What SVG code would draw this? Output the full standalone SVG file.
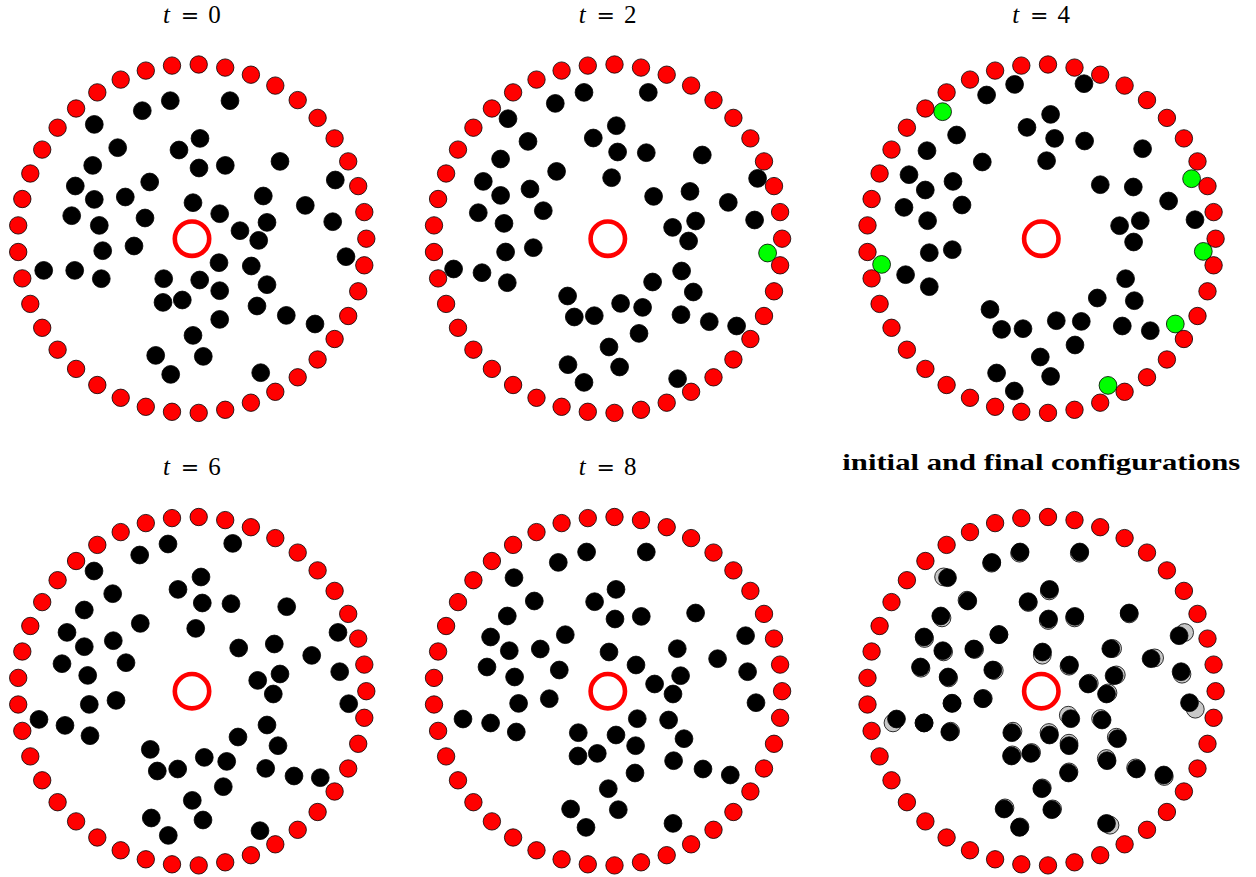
<svg xmlns="http://www.w3.org/2000/svg" xmlns:xlink="http://www.w3.org/1999/xlink" width="1256" height="877" viewBox="0 0 1256 877">
<style>
.r{fill:#ff0000;stroke:#000;stroke-width:0.8}
.b{fill:#000;stroke:#000;stroke-width:0.8}
.g{fill:#00ff00;stroke:#000;stroke-width:0.8}
.s{fill:#c8c8c8;stroke:#000;stroke-width:0.8}
.c{fill:none;stroke:#ff0000;stroke-width:4.6}
.t{font-family:"Liberation Serif","DejaVu Serif",serif;font-size:25px;fill:#000}
.eq{font-family:"DejaVu Serif","Liberation Serif",serif;font-size:22px}
.h{font-family:"Liberation Serif","DejaVu Serif",serif;font-size:23px;font-weight:bold;fill:#000}
</style>
<defs>
<g id="ring">
<circle class="r" cx="174.3" cy="0" r="8.7"/><circle class="r" cx="172.3" cy="26.6" r="8.7"/><circle class="r" cx="166.2" cy="52.6" r="8.7"/><circle class="r" cx="156.2" cy="77.3" r="8.7"/><circle class="r" cx="142.6" cy="100.3" r="8.7"/><circle class="r" cx="125.6" cy="120.8" r="8.7"/><circle class="r" cx="105.7" cy="138.6" r="8.7"/><circle class="r" cx="83.3" cy="153.1" r="8.7"/><circle class="r" cx="58.9" cy="164.0" r="8.7"/><circle class="r" cx="33.2" cy="171.1" r="8.7"/><circle class="r" cx="6.7" cy="174.2" r="8.7"/><circle class="r" cx="-20.0" cy="173.1" r="8.7"/><circle class="r" cx="-46.2" cy="168.1" r="8.7"/><circle class="r" cx="-71.3" cy="159.1" r="8.7"/><circle class="r" cx="-94.7" cy="146.3" r="8.7"/><circle class="r" cx="-115.9" cy="130.2" r="8.7"/><circle class="r" cx="-134.4" cy="111.0" r="8.7"/><circle class="r" cx="-149.8" cy="89.1" r="8.7"/><circle class="r" cx="-161.7" cy="65.2" r="8.7"/><circle class="r" cx="-169.7" cy="39.7" r="8.7"/><circle class="r" cx="-173.8" cy="13.3" r="8.7"/><circle class="r" cx="-173.8" cy="-13.3" r="8.7"/><circle class="r" cx="-169.7" cy="-39.7" r="8.7"/><circle class="r" cx="-161.7" cy="-65.2" r="8.7"/><circle class="r" cx="-149.8" cy="-89.1" r="8.7"/><circle class="r" cx="-134.4" cy="-111.0" r="8.7"/><circle class="r" cx="-115.9" cy="-130.2" r="8.7"/><circle class="r" cx="-94.7" cy="-146.3" r="8.7"/><circle class="r" cx="-71.3" cy="-159.1" r="8.7"/><circle class="r" cx="-46.2" cy="-168.1" r="8.7"/><circle class="r" cx="-20.0" cy="-173.1" r="8.7"/><circle class="r" cx="6.7" cy="-174.2" r="8.7"/><circle class="r" cx="33.2" cy="-171.1" r="8.7"/><circle class="r" cx="58.9" cy="-164.0" r="8.7"/><circle class="r" cx="83.3" cy="-153.1" r="8.7"/><circle class="r" cx="105.7" cy="-138.6" r="8.7"/><circle class="r" cx="125.6" cy="-120.8" r="8.7"/><circle class="r" cx="142.6" cy="-100.3" r="8.7"/><circle class="r" cx="156.2" cy="-77.3" r="8.7"/><circle class="r" cx="166.2" cy="-52.6" r="8.7"/><circle class="r" cx="172.3" cy="-26.6" r="8.7"/>
<circle class="c" cx="0" cy="0" r="17.2"/>
</g>
</defs>

<g id="titles">
<text class="t" y="23"><tspan x="163" font-style="italic">t</tspan><tspan class="eq" x="190" text-anchor="middle">=</tspan><tspan x="214.5" text-anchor="middle">0</tspan></text>
<text class="t" y="23"><tspan x="578.8" font-style="italic">t</tspan><tspan class="eq" x="605.8" text-anchor="middle">=</tspan><tspan x="630.3" text-anchor="middle">2</tspan></text>
<text class="t" y="23"><tspan x="1012.3" font-style="italic">t</tspan><tspan class="eq" x="1039.3" text-anchor="middle">=</tspan><tspan x="1063.8" text-anchor="middle">4</tspan></text>
<text class="t" y="475"><tspan x="163" font-style="italic">t</tspan><tspan class="eq" x="190" text-anchor="middle">=</tspan><tspan x="214.5" text-anchor="middle">6</tspan></text>
<text class="t" y="475"><tspan x="578.8" font-style="italic">t</tspan><tspan class="eq" x="605.8" text-anchor="middle">=</tspan><tspan x="630.3" text-anchor="middle">8</tspan></text>
<text class="h" x="1041.3" y="470" text-anchor="middle" textLength="398" lengthAdjust="spacingAndGlyphs">initial and final configurations</text>
</g>

<g id="panel1" transform="translate(192,238.7)">
<circle class="b" cx="-49.7" cy="-128.0" r="8.9"/><circle class="b" cx="-21.7" cy="-138.0" r="8.9"/><circle class="b" cx="38.0" cy="-138.0" r="8.9"/><circle class="b" cx="-97.7" cy="-114.3" r="8.9"/><circle class="b" cx="-74.3" cy="-91.0" r="8.9"/><circle class="b" cx="-13.0" cy="-88.7" r="8.9"/><circle class="b" cx="8.0" cy="-100.3" r="8.9"/><circle class="b" cx="7.0" cy="-70.7" r="8.9"/><circle class="b" cx="33.3" cy="-73.3" r="8.9"/><circle class="b" cx="88.0" cy="-77.3" r="8.9"/>
<circle class="b" cx="-99.3" cy="-73.3" r="8.9"/><circle class="b" cx="-42.3" cy="-56.7" r="8.9"/><circle class="b" cx="-116.7" cy="-52.7" r="8.9"/><circle class="b" cx="-97.7" cy="-39.3" r="8.9"/><circle class="b" cx="-66.7" cy="-41.7" r="8.9"/><circle class="b" cx="143.3" cy="-58.7" r="8.9"/><circle class="b" cx="1.0" cy="-36.0" r="8.9"/><circle class="b" cx="71.3" cy="-42.7" r="8.9"/><circle class="b" cx="113.3" cy="-33.3" r="8.9"/><circle class="b" cx="-120.3" cy="-23.0" r="8.9"/>
<circle class="b" cx="-47.0" cy="-20.7" r="8.9"/><circle class="b" cx="27.7" cy="-25.0" r="8.9"/><circle class="b" cx="-92.7" cy="-13.3" r="8.9"/><circle class="b" cx="75.0" cy="-16.3" r="8.9"/><circle class="b" cx="140.7" cy="-17.0" r="8.9"/><circle class="b" cx="48.0" cy="-8.0" r="8.9"/><circle class="b" cx="66.7" cy="1.7" r="8.9"/><circle class="b" cx="-89.3" cy="12.0" r="8.9"/><circle class="b" cx="-58.0" cy="7.3" r="8.9"/><circle class="b" cx="154.0" cy="18.0" r="8.9"/>
<circle class="b" cx="27.0" cy="24.0" r="8.9"/><circle class="b" cx="59.3" cy="27.3" r="8.9"/><circle class="b" cx="-148.3" cy="31.7" r="8.9"/><circle class="b" cx="-117.3" cy="31.7" r="8.9"/><circle class="b" cx="-90.7" cy="40.0" r="8.9"/><circle class="b" cx="-28.3" cy="40.0" r="8.9"/><circle class="b" cx="7.7" cy="41.3" r="8.9"/><circle class="b" cx="75.0" cy="46.0" r="8.9"/><circle class="b" cx="27.7" cy="52.0" r="8.9"/><circle class="b" cx="-29.0" cy="63.7" r="8.9"/>
<circle class="b" cx="-9.7" cy="61.3" r="8.9"/><circle class="b" cx="65.0" cy="67.3" r="8.9"/><circle class="b" cx="27.7" cy="80.7" r="8.9"/><circle class="b" cx="94.3" cy="76.7" r="8.9"/><circle class="b" cx="123.0" cy="85.3" r="8.9"/><circle class="b" cx="1.0" cy="96.7" r="8.9"/><circle class="b" cx="-36.3" cy="116.7" r="8.9"/><circle class="b" cx="11.3" cy="117.7" r="8.9"/><circle class="b" cx="-21.3" cy="135.7" r="8.9"/><circle class="b" cx="68.7" cy="134.0" r="8.9"/>
<use xlink:href="#ring" href="#ring"/>
</g>

<g id="panel2" transform="translate(607.8,238.7)">
<circle class="b" cx="-52.5" cy="-135.3" r="8.9"/><circle class="b" cx="-23.8" cy="-146.3" r="8.9"/><circle class="b" cx="40.5" cy="-146.3" r="8.9"/><circle class="b" cx="-99.8" cy="-120.0" r="8.9"/><circle class="b" cx="-79.8" cy="-97.3" r="8.9"/><circle class="b" cx="-14.5" cy="-100.7" r="8.9"/><circle class="b" cx="8.5" cy="-113.0" r="8.9"/><circle class="b" cx="9.8" cy="-86.7" r="8.9"/><circle class="b" cx="38.5" cy="-86.0" r="8.9"/><circle class="b" cx="94.5" cy="-83.7" r="8.9"/>
<circle class="b" cx="-107.2" cy="-79.7" r="8.9"/><circle class="b" cx="-51.2" cy="-67.3" r="8.9"/><circle class="b" cx="-124.5" cy="-57.3" r="8.9"/><circle class="b" cx="3.8" cy="-61.0" r="8.9"/><circle class="b" cx="-107.2" cy="-43.3" r="8.9"/><circle class="b" cx="-77.8" cy="-49.7" r="8.9"/><circle class="b" cx="149.8" cy="-60.3" r="8.9"/><circle class="b" cx="45.8" cy="-42.3" r="8.9"/><circle class="b" cx="82.2" cy="-47.3" r="8.9"/><circle class="b" cx="120.5" cy="-36.3" r="8.9"/>
<circle class="b" cx="-129.5" cy="-26.0" r="8.9"/><circle class="b" cx="-64.5" cy="-28.0" r="8.9"/><circle class="b" cx="-103.8" cy="-15.3" r="8.9"/><circle class="b" cx="87.8" cy="-17.7" r="8.9"/><circle class="b" cx="146.8" cy="-18.7" r="8.9"/><circle class="b" cx="64.8" cy="-11.3" r="8.9"/><circle class="b" cx="80.8" cy="2.3" r="8.9"/><circle class="b" cx="-102.2" cy="13.3" r="8.9"/><circle class="b" cx="-74.5" cy="9.0" r="8.9"/><circle class="b" cx="-154.2" cy="30.3" r="8.9"/>
<circle class="b" cx="-125.8" cy="34.0" r="8.9"/><circle class="b" cx="-100.5" cy="44.0" r="8.9"/><circle class="b" cx="44.8" cy="43.3" r="8.9"/><circle class="b" cx="73.8" cy="32.3" r="8.9"/><circle class="b" cx="85.5" cy="53.3" r="8.9"/><circle class="b" cx="-40.2" cy="57.3" r="8.9"/><circle class="b" cx="12.8" cy="64.7" r="8.9"/><circle class="b" cx="34.8" cy="68.7" r="8.9"/><circle class="b" cx="-33.5" cy="78.3" r="8.9"/><circle class="b" cx="-13.5" cy="77.0" r="8.9"/>
<circle class="b" cx="73.2" cy="76.0" r="8.9"/><circle class="b" cx="101.5" cy="83.0" r="8.9"/><circle class="b" cx="128.8" cy="87.3" r="8.9"/><circle class="b" cx="31.2" cy="94.7" r="8.9"/><circle class="b" cx="1.2" cy="108.3" r="8.9"/><circle class="b" cx="-39.8" cy="126.0" r="8.9"/><circle class="b" cx="11.8" cy="128.3" r="8.9"/><circle class="b" cx="-23.8" cy="143.7" r="8.9"/><circle class="b" cx="69.8" cy="140.0" r="8.9"/>
<circle class="g" cx="159.8" cy="14.3" r="8.9"/>
<use xlink:href="#ring" href="#ring"/>
</g>

<g id="panel3" transform="translate(1041.3,238.7)">
<circle class="b" cx="-54.7" cy="-143.7" r="8.9"/><circle class="b" cx="-26.7" cy="-154.3" r="8.9"/><circle class="b" cx="42.7" cy="-155.0" r="8.9"/><circle class="b" cx="-84.7" cy="-103.7" r="8.9"/><circle class="b" cx="-14.3" cy="-111.3" r="8.9"/><circle class="b" cx="9.3" cy="-124.3" r="8.9"/><circle class="b" cx="13.3" cy="-100.3" r="8.9"/><circle class="b" cx="43.3" cy="-97.7" r="8.9"/><circle class="b" cx="101.3" cy="-90.0" r="8.9"/><circle class="b" cx="-114.3" cy="-88.0" r="8.9"/>
<circle class="b" cx="-59.0" cy="-76.7" r="8.9"/><circle class="b" cx="5.3" cy="-78.0" r="8.9"/><circle class="b" cx="-132.3" cy="-64.0" r="8.9"/><circle class="b" cx="-88.3" cy="-57.3" r="8.9"/><circle class="b" cx="-116.0" cy="-48.7" r="8.9"/><circle class="b" cx="59.0" cy="-54.0" r="8.9"/><circle class="b" cx="92.0" cy="-51.7" r="8.9"/><circle class="b" cx="127.3" cy="-37.7" r="8.9"/><circle class="b" cx="-137.3" cy="-31.3" r="8.9"/><circle class="b" cx="-79.3" cy="-33.7" r="8.9"/>
<circle class="b" cx="-113.7" cy="-18.0" r="8.9"/><circle class="b" cx="99.0" cy="-18.0" r="8.9"/><circle class="b" cx="153.7" cy="-19.0" r="8.9"/><circle class="b" cx="78.3" cy="-13.0" r="8.9"/><circle class="b" cx="92.3" cy="3.3" r="8.9"/><circle class="b" cx="-112.0" cy="14.0" r="8.9"/><circle class="b" cx="-89.0" cy="11.0" r="8.9"/><circle class="b" cx="-135.7" cy="36.0" r="8.9"/><circle class="b" cx="-112.0" cy="48.0" r="8.9"/><circle class="b" cx="84.3" cy="40.0" r="8.9"/>
<circle class="b" cx="56.0" cy="59.3" r="8.9"/><circle class="b" cx="93.0" cy="62.0" r="8.9"/><circle class="b" cx="-51.3" cy="70.7" r="8.9"/><circle class="b" cx="-39.7" cy="90.7" r="8.9"/><circle class="b" cx="-18.3" cy="90.0" r="8.9"/><circle class="b" cx="15.0" cy="82.0" r="8.9"/><circle class="b" cx="40.0" cy="82.7" r="8.9"/><circle class="b" cx="81.0" cy="87.3" r="8.9"/><circle class="b" cx="109.0" cy="92.0" r="8.9"/><circle class="b" cx="33.7" cy="106.3" r="8.9"/>
<circle class="b" cx="-1.0" cy="118.3" r="8.9"/><circle class="b" cx="-44.7" cy="134.3" r="8.9"/><circle class="b" cx="9.3" cy="137.7" r="8.9"/><circle class="b" cx="-27.0" cy="152.3" r="8.9"/>
<circle class="g" cx="-98.7" cy="-127.0" r="8.9"/><circle class="g" cx="150.3" cy="-60.0" r="8.9"/><circle class="g" cx="162.0" cy="12.7" r="8.9"/><circle class="g" cx="-159.7" cy="25.7" r="8.9"/><circle class="g" cx="134.0" cy="85.3" r="8.9"/><circle class="g" cx="66.7" cy="146.7" r="8.9"/>
<use xlink:href="#ring" href="#ring"/>
</g>

<g id="panel4" transform="translate(192,691.2)">
<circle class="b" cx="-52.3" cy="-136.2" r="8.9"/><circle class="b" cx="-24.0" cy="-147.2" r="8.9"/><circle class="b" cx="40.7" cy="-147.8" r="8.9"/><circle class="b" cx="-98.0" cy="-120.2" r="8.9"/><circle class="b" cx="-79.3" cy="-97.5" r="8.9"/><circle class="b" cx="-14.0" cy="-101.8" r="8.9"/><circle class="b" cx="9.0" cy="-114.2" r="8.9"/><circle class="b" cx="10.3" cy="-88.2" r="8.9"/><circle class="b" cx="39.0" cy="-87.5" r="8.9"/><circle class="b" cx="94.7" cy="-84.5" r="8.9"/>
<circle class="b" cx="-107.7" cy="-81.2" r="8.9"/><circle class="b" cx="-51.7" cy="-67.8" r="8.9"/><circle class="b" cx="-125.0" cy="-58.8" r="8.9"/><circle class="b" cx="3.7" cy="-62.8" r="8.9"/><circle class="b" cx="-107.7" cy="-44.5" r="8.9"/><circle class="b" cx="-78.7" cy="-50.5" r="8.9"/><circle class="b" cx="146.0" cy="-58.8" r="8.9"/><circle class="b" cx="46.7" cy="-43.2" r="8.9"/><circle class="b" cx="82.3" cy="-47.2" r="8.9"/><circle class="b" cx="119.7" cy="-35.8" r="8.9"/>
<circle class="b" cx="-130.0" cy="-27.5" r="8.9"/><circle class="b" cx="-66.0" cy="-28.5" r="8.9"/><circle class="b" cx="-104.3" cy="-15.8" r="8.9"/><circle class="b" cx="88.0" cy="-17.2" r="8.9"/><circle class="b" cx="147.7" cy="-19.5" r="8.9"/><circle class="b" cx="65.7" cy="-10.8" r="8.9"/><circle class="b" cx="81.3" cy="2.8" r="8.9"/><circle class="b" cx="-102.7" cy="13.2" r="8.9"/><circle class="b" cx="-76.0" cy="9.2" r="8.9"/><circle class="b" cx="156.7" cy="12.5" r="8.9"/>
<circle class="b" cx="-153.0" cy="28.2" r="8.9"/><circle class="b" cx="-127.0" cy="34.2" r="8.9"/><circle class="b" cx="-102.0" cy="44.5" r="8.9"/><circle class="b" cx="46.0" cy="45.8" r="8.9"/><circle class="b" cx="75.0" cy="33.8" r="8.9"/><circle class="b" cx="86.0" cy="54.5" r="8.9"/><circle class="b" cx="-41.7" cy="58.2" r="8.9"/><circle class="b" cx="12.3" cy="66.2" r="8.9"/><circle class="b" cx="34.7" cy="70.2" r="8.9"/><circle class="b" cx="-34.7" cy="79.8" r="8.9"/>
<circle class="b" cx="-14.3" cy="77.8" r="8.9"/><circle class="b" cx="73.7" cy="77.2" r="8.9"/><circle class="b" cx="102.0" cy="84.8" r="8.9"/><circle class="b" cx="128.3" cy="86.5" r="8.9"/><circle class="b" cx="31.3" cy="95.5" r="8.9"/><circle class="b" cx="0.3" cy="109.2" r="8.9"/><circle class="b" cx="-40.7" cy="126.8" r="8.9"/><circle class="b" cx="11.0" cy="128.8" r="8.9"/><circle class="b" cx="-23.7" cy="144.2" r="8.9"/><circle class="b" cx="68.0" cy="139.5" r="8.9"/>
<use xlink:href="#ring" href="#ring"/>
</g>

<g id="panel5" transform="translate(607.8,691.2)">
<circle class="b" cx="-49.5" cy="-128.8" r="8.9"/><circle class="b" cx="-21.2" cy="-139.2" r="8.9"/><circle class="b" cx="38.5" cy="-139.2" r="8.9"/><circle class="b" cx="-93.8" cy="-113.5" r="8.9"/><circle class="b" cx="-73.5" cy="-90.2" r="8.9"/><circle class="b" cx="-13.2" cy="-89.5" r="8.9"/><circle class="b" cx="8.2" cy="-101.8" r="8.9"/><circle class="b" cx="7.2" cy="-72.2" r="8.9"/><circle class="b" cx="33.5" cy="-74.8" r="8.9"/><circle class="b" cx="87.8" cy="-78.2" r="8.9"/>
<circle class="b" cx="-100.5" cy="-75.2" r="8.9"/><circle class="b" cx="-42.5" cy="-56.5" r="8.9"/><circle class="b" cx="-117.2" cy="-54.2" r="8.9"/><circle class="b" cx="-98.5" cy="-40.5" r="8.9"/><circle class="b" cx="-67.5" cy="-42.2" r="8.9"/><circle class="b" cx="137.8" cy="-55.5" r="8.9"/><circle class="b" cx="1.2" cy="-39.2" r="8.9"/><circle class="b" cx="69.5" cy="-42.5" r="8.9"/><circle class="b" cx="109.8" cy="-32.5" r="8.9"/><circle class="b" cx="-120.8" cy="-24.2" r="8.9"/>
<circle class="b" cx="-48.5" cy="-21.2" r="8.9"/><circle class="b" cx="28.2" cy="-26.2" r="8.9"/><circle class="b" cx="-93.2" cy="-14.2" r="8.9"/><circle class="b" cx="72.8" cy="-15.5" r="8.9"/><circle class="b" cx="139.8" cy="-19.5" r="8.9"/><circle class="b" cx="46.8" cy="-7.2" r="8.9"/><circle class="b" cx="65.2" cy="2.8" r="8.9"/><circle class="b" cx="-89.2" cy="12.2" r="8.9"/><circle class="b" cx="-58.5" cy="7.5" r="8.9"/><circle class="b" cx="148.2" cy="11.5" r="8.9"/>
<circle class="b" cx="29.5" cy="27.5" r="8.9"/><circle class="b" cx="60.8" cy="28.8" r="8.9"/><circle class="b" cx="-144.8" cy="27.8" r="8.9"/><circle class="b" cx="-117.2" cy="31.8" r="8.9"/><circle class="b" cx="-91.5" cy="40.8" r="8.9"/><circle class="b" cx="-29.5" cy="41.5" r="8.9"/><circle class="b" cx="8.2" cy="43.8" r="8.9"/><circle class="b" cx="76.2" cy="47.5" r="8.9"/><circle class="b" cx="27.8" cy="54.5" r="8.9"/><circle class="b" cx="-29.8" cy="64.8" r="8.9"/>
<circle class="b" cx="-10.5" cy="62.2" r="8.9"/><circle class="b" cx="65.8" cy="69.5" r="8.9"/><circle class="b" cx="27.2" cy="81.8" r="8.9"/><circle class="b" cx="95.2" cy="77.8" r="8.9"/><circle class="b" cx="122.5" cy="83.8" r="8.9"/><circle class="b" cx="0.5" cy="97.5" r="8.9"/><circle class="b" cx="-37.2" cy="117.8" r="8.9"/><circle class="b" cx="10.5" cy="118.5" r="8.9"/><circle class="b" cx="-21.8" cy="136.2" r="8.9"/><circle class="b" cx="65.2" cy="132.2" r="8.9"/>
<use xlink:href="#ring" href="#ring"/>
</g>

<g id="panel6" transform="translate(1041.3,691.2)">
<circle class="s" cx="-49.7" cy="-128.0" r="8.9"/><circle class="s" cx="-21.7" cy="-138.0" r="8.9"/><circle class="s" cx="38.0" cy="-138.0" r="8.9"/><circle class="s" cx="-97.7" cy="-114.3" r="8.9"/><circle class="s" cx="-74.3" cy="-91.0" r="8.9"/><circle class="s" cx="-13.0" cy="-88.7" r="8.9"/><circle class="s" cx="8.0" cy="-100.3" r="8.9"/><circle class="s" cx="7.0" cy="-70.7" r="8.9"/><circle class="s" cx="33.3" cy="-73.3" r="8.9"/><circle class="s" cx="88.0" cy="-77.3" r="8.9"/>
<circle class="s" cx="-99.3" cy="-73.3" r="8.9"/><circle class="s" cx="-42.3" cy="-56.7" r="8.9"/><circle class="s" cx="-116.7" cy="-52.7" r="8.9"/><circle class="s" cx="-97.7" cy="-39.3" r="8.9"/><circle class="s" cx="-66.7" cy="-41.7" r="8.9"/><circle class="s" cx="143.3" cy="-58.7" r="8.9"/><circle class="s" cx="1.0" cy="-36.0" r="8.9"/><circle class="s" cx="71.3" cy="-42.7" r="8.9"/><circle class="s" cx="113.3" cy="-33.3" r="8.9"/><circle class="s" cx="-120.3" cy="-23.0" r="8.9"/>
<circle class="s" cx="-47.0" cy="-20.7" r="8.9"/><circle class="s" cx="27.7" cy="-25.0" r="8.9"/><circle class="s" cx="-92.7" cy="-13.3" r="8.9"/><circle class="s" cx="75.0" cy="-16.3" r="8.9"/><circle class="s" cx="140.7" cy="-17.0" r="8.9"/><circle class="s" cx="48.0" cy="-8.0" r="8.9"/><circle class="s" cx="66.7" cy="1.7" r="8.9"/><circle class="s" cx="-89.3" cy="12.0" r="8.9"/><circle class="s" cx="-58.0" cy="7.3" r="8.9"/><circle class="s" cx="154.0" cy="18.0" r="8.9"/>
<circle class="s" cx="27.0" cy="24.0" r="8.9"/><circle class="s" cx="59.3" cy="27.3" r="8.9"/><circle class="s" cx="-148.3" cy="31.7" r="8.9"/><circle class="s" cx="-117.3" cy="31.7" r="8.9"/><circle class="s" cx="-90.7" cy="40.0" r="8.9"/><circle class="s" cx="-28.3" cy="40.0" r="8.9"/><circle class="s" cx="7.7" cy="41.3" r="8.9"/><circle class="s" cx="75.0" cy="46.0" r="8.9"/><circle class="s" cx="27.7" cy="52.0" r="8.9"/><circle class="s" cx="-29.0" cy="63.7" r="8.9"/>
<circle class="s" cx="-9.7" cy="61.3" r="8.9"/><circle class="s" cx="65.0" cy="67.3" r="8.9"/><circle class="s" cx="27.7" cy="80.7" r="8.9"/><circle class="s" cx="94.3" cy="76.7" r="8.9"/><circle class="s" cx="123.0" cy="85.3" r="8.9"/><circle class="s" cx="1.0" cy="96.7" r="8.9"/><circle class="s" cx="-36.3" cy="116.7" r="8.9"/><circle class="s" cx="11.3" cy="117.7" r="8.9"/><circle class="s" cx="-21.3" cy="135.7" r="8.9"/><circle class="s" cx="68.7" cy="134.0" r="8.9"/>
<circle class="b" cx="-49.5" cy="-128.8" r="8.9"/><circle class="b" cx="-21.2" cy="-139.2" r="8.9"/><circle class="b" cx="38.5" cy="-139.2" r="8.9"/><circle class="b" cx="-93.8" cy="-113.5" r="8.9"/><circle class="b" cx="-73.5" cy="-90.2" r="8.9"/><circle class="b" cx="-13.2" cy="-89.5" r="8.9"/><circle class="b" cx="8.2" cy="-101.8" r="8.9"/><circle class="b" cx="7.2" cy="-72.2" r="8.9"/><circle class="b" cx="33.5" cy="-74.8" r="8.9"/><circle class="b" cx="87.8" cy="-78.2" r="8.9"/>
<circle class="b" cx="-100.5" cy="-75.2" r="8.9"/><circle class="b" cx="-42.5" cy="-56.5" r="8.9"/><circle class="b" cx="-117.2" cy="-54.2" r="8.9"/><circle class="b" cx="-98.5" cy="-40.5" r="8.9"/><circle class="b" cx="-67.5" cy="-42.2" r="8.9"/><circle class="b" cx="137.8" cy="-55.5" r="8.9"/><circle class="b" cx="1.2" cy="-39.2" r="8.9"/><circle class="b" cx="69.5" cy="-42.5" r="8.9"/><circle class="b" cx="109.8" cy="-32.5" r="8.9"/><circle class="b" cx="-120.8" cy="-24.2" r="8.9"/>
<circle class="b" cx="-48.5" cy="-21.2" r="8.9"/><circle class="b" cx="28.2" cy="-26.2" r="8.9"/><circle class="b" cx="-93.2" cy="-14.2" r="8.9"/><circle class="b" cx="72.8" cy="-15.5" r="8.9"/><circle class="b" cx="139.8" cy="-19.5" r="8.9"/><circle class="b" cx="46.8" cy="-7.2" r="8.9"/><circle class="b" cx="65.2" cy="2.8" r="8.9"/><circle class="b" cx="-89.2" cy="12.2" r="8.9"/><circle class="b" cx="-58.5" cy="7.5" r="8.9"/><circle class="b" cx="148.2" cy="11.5" r="8.9"/>
<circle class="b" cx="29.5" cy="27.5" r="8.9"/><circle class="b" cx="60.8" cy="28.8" r="8.9"/><circle class="b" cx="-144.8" cy="27.8" r="8.9"/><circle class="b" cx="-117.2" cy="31.8" r="8.9"/><circle class="b" cx="-91.5" cy="40.8" r="8.9"/><circle class="b" cx="-29.5" cy="41.5" r="8.9"/><circle class="b" cx="8.2" cy="43.8" r="8.9"/><circle class="b" cx="76.2" cy="47.5" r="8.9"/><circle class="b" cx="27.8" cy="54.5" r="8.9"/><circle class="b" cx="-29.8" cy="64.8" r="8.9"/>
<circle class="b" cx="-10.5" cy="62.2" r="8.9"/><circle class="b" cx="65.8" cy="69.5" r="8.9"/><circle class="b" cx="27.2" cy="81.8" r="8.9"/><circle class="b" cx="95.2" cy="77.8" r="8.9"/><circle class="b" cx="122.5" cy="83.8" r="8.9"/><circle class="b" cx="0.5" cy="97.5" r="8.9"/><circle class="b" cx="-37.2" cy="117.8" r="8.9"/><circle class="b" cx="10.5" cy="118.5" r="8.9"/><circle class="b" cx="-21.8" cy="136.2" r="8.9"/><circle class="b" cx="65.2" cy="132.2" r="8.9"/>
<use xlink:href="#ring" href="#ring"/>
</g>
</svg>
